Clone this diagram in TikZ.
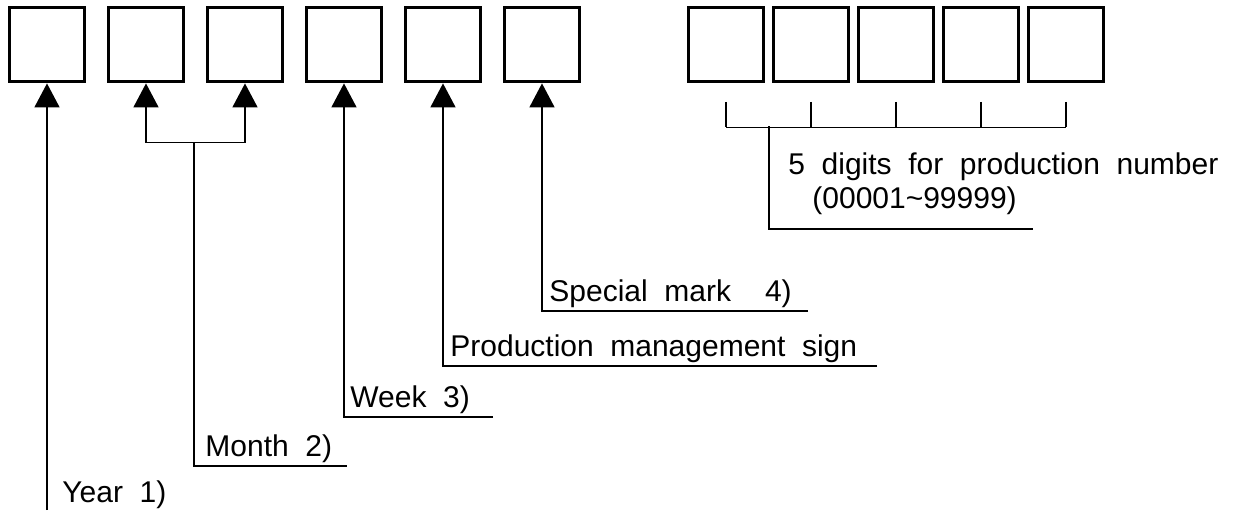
\documentclass[tikz,border=0pt]{standalone}
\usepackage{fontspec}
\setmainfont{Liberation Sans}
\usetikzlibrary{arrows.meta}
\tikzset{
	digit/.style={draw, line width=1.3pt, minimum width=37.5pt, minimum height=37pt, inner sep=0pt},
	lead/.style={line width=0.75pt},
	pointer/.style={lead, -{Triangle[width=12.5pt,length=12pt]}, shorten >=0.3pt},
	caption/.style={anchor=base west, inner sep=0pt, font={\fontsize{15}{18}\selectfont\spaceskip=8.3pt plus 1pt\relax}}
}
\begin{document}
\begin{tikzpicture}[x=0.5pt,y=-0.5pt]
	\useasboundingbox (0,0) rectangle (1233,510);
	\node[digit] (year) at (47,44.5) {};
	\node[digit] (month1) at (146,44.5) {};
	\node[digit] (month2) at (245,44.5) {};
	\node[digit] (week) at (344,44.5) {};
	\node[digit] (prod) at (443,44.5) {};
	\node[digit] (spec) at (542,44.5) {};
	\foreach \i in {1,...,5}
		\node[digit] (num\i) at (641+85*\i,44.5) {};
	\node[caption] (yearlab) at (62,502) {Year 1)};
	\node[caption] (monthlab) at (205,456) {Month 2)};
	\node[caption] (weeklab) at (350,407) {Week 3)};
	\node[caption] (prodlab) at (450,356) {Production management sign};
	\node[caption] (speclab) at (549,301) {Special mark\hspace{17pt}4)};
	\node[caption] (numlab) at (788,174) {5 digits for production number};
	\node[caption] (rangelab) at (812,208) {(00001\textasciitilde 99999)};
	\coordinate (yearfoot) at (47,510);
	\coordinate (monthfork) at (194,142.7);
	\coordinate (monthline) at (347,466);
	\coordinate (weekline) at (493,417);
	\coordinate (prodline) at (877,366);
	\coordinate (specline) at (808,311);
	\coordinate (numfork) at (769,126);
	\coordinate (numline) at (1033,229);
	\draw[pointer] (yearfoot)--(year.south);
	\draw[pointer] (monthfork)-|(month1.south);
	\draw[pointer] (monthfork)-|(month2.south);
	\draw[lead] (monthfork)|-(monthline);
	\draw[pointer] (weekline)-|(week.south);
	\draw[pointer] (prodline)-|(prod.south);
	\draw[pointer] (specline)-|(spec.south);
	\foreach \i in {1,...,5}
		\draw[lead] ([yshift=-9.5pt]num\i.south)--([yshift=-22.25pt]num\i.south);
	\draw[lead] ([yshift=-22.25pt]num1.south)--([yshift=-22.25pt]num5.south);
	\draw[lead] (numfork)|-(numline);
\end{tikzpicture}
\end{document}
